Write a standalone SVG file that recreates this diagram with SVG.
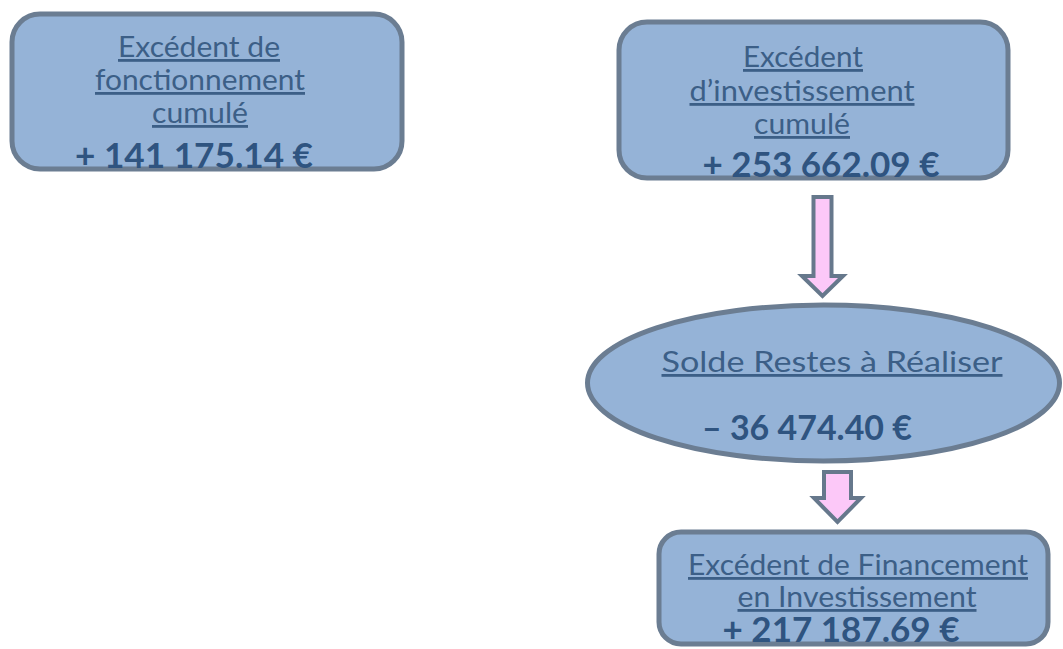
<svg xmlns="http://www.w3.org/2000/svg" width="1063" height="649" viewBox="0 0 1063 649">
<style>
.box{fill:#95b3d7;stroke:#6b7d92;stroke-width:5}
.arrow{fill:#fcc8f8;stroke:#66788c;stroke-width:4;stroke-linejoin:miter}
.t{font-family:Lato,"Open Sans","Liberation Sans",sans-serif;font-size:28px;fill:#3c5f87;text-anchor:middle;text-decoration:underline}
.a{font-family:Lato,"Open Sans","Liberation Sans",sans-serif;font-size:34px;font-weight:bold;fill:#2f5480;text-anchor:middle}
</style>
<rect width="1063" height="649" fill="#ffffff"/>
<g id="connectors">
<polygon class="arrow" points="813.5,197 831.5,197 831.5,276 843,276 822.5,296 802,276 813.5,276"/>
<polygon class="arrow" points="824,472 851,472 851,498 861,498 837.5,522 814,498 824,498"/>
</g>
<g id="node-fonctionnement">
<rect class="box" x="12" y="14" width="390" height="155" rx="28"/>
<text class="t" x="199" y="57" textLength="162" lengthAdjust="spacingAndGlyphs">Excédent de</text>
<text class="t" x="200" y="90" textLength="210" lengthAdjust="spacingAndGlyphs">fonctionnement</text>
<text class="t" x="200" y="123" textLength="96" lengthAdjust="spacingAndGlyphs">cumulé</text>
<text class="a" x="194" y="168" textLength="238" lengthAdjust="spacingAndGlyphs">+ 141 175.14 €</text>
</g>
<g id="node-investissement">
<rect class="box" x="619" y="22" width="389" height="156" rx="28"/>
<text class="t" x="803" y="67" textLength="120" lengthAdjust="spacingAndGlyphs">Excédent</text>
<text class="t" x="802" y="101" textLength="225" lengthAdjust="spacingAndGlyphs">d’investissement</text>
<text class="t" x="802" y="134" textLength="96" lengthAdjust="spacingAndGlyphs">cumulé</text>
<text class="a" x="821" y="177" textLength="237" lengthAdjust="spacingAndGlyphs">+ 253 662.09 €</text>
</g>
<g id="node-restes">
<ellipse class="box" cx="823.5" cy="383" rx="236" ry="78"/>
<text class="t" x="832" y="372" textLength="341" lengthAdjust="spacingAndGlyphs">Solde Restes à Réaliser</text>
<text class="a" x="807" y="440" textLength="210" lengthAdjust="spacingAndGlyphs">– 36 474.40 €</text>
</g>
<g id="node-financement">
<rect class="box" x="659" y="532" width="389" height="112" rx="22"/>
<text class="t" x="858" y="575" font-size="26" textLength="340" lengthAdjust="spacingAndGlyphs">Excédent de Financement</text>
<text class="t" x="857" y="607" font-size="26" textLength="239" lengthAdjust="spacingAndGlyphs">en Investissement</text>
<text class="a" x="841" y="642" font-size="29" textLength="237" lengthAdjust="spacingAndGlyphs">+ 217 187.69 €</text>
</g>
</svg>
